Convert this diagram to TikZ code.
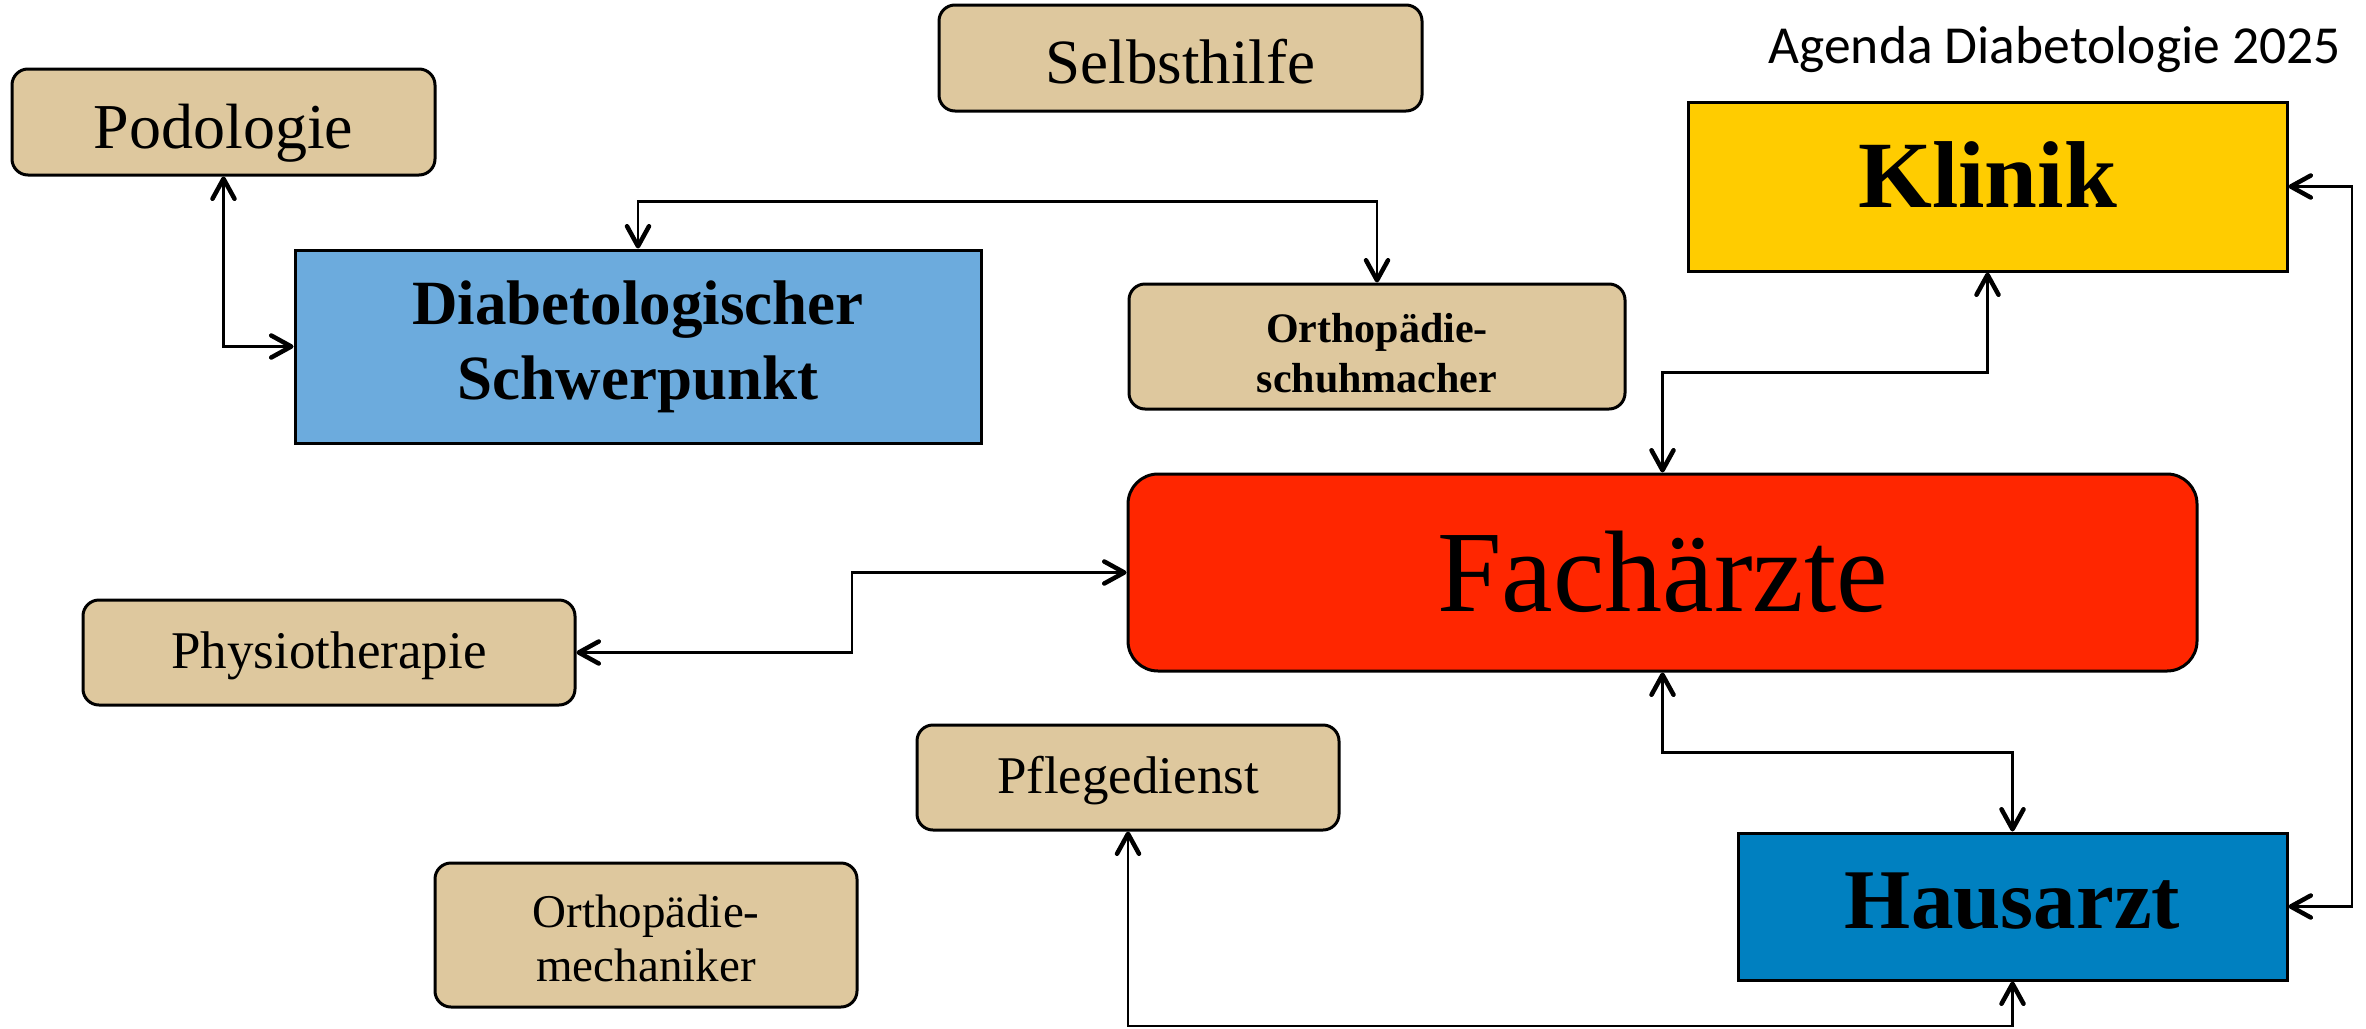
\documentclass[tikz,border=0pt]{standalone}
\usepackage{fontspec}
\setmainfont{Liberation Serif}
\newfontfamily\titlefont{Carlito}
\usetikzlibrary{arrows.meta}
\definecolor{tanc}{HTML}{DEC89E}
\definecolor{diabc}{HTML}{6CABDD}
\definecolor{klinc}{HTML}{FFCC00}
\definecolor{fachc}{HTML}{FF2600}
\definecolor{hausc}{HTML}{0080C0}
\tikzset{
  box/.style={draw=black, line width=3pt, inner sep=0pt, align=center, text=black},
  tanbox/.style={box, fill=tanc, rounded corners=16pt},
  conn/.style={line width=2.3pt,
    {Straight Barb[length=20pt, width=22pt, line width=4.5pt, round]}-{Straight Barb[length=20pt, width=22pt, line width=4.5pt, round]}},
  fs/.style 2 args={font=\fontsize{#1}{#2}\selectfont}
}
\begin{document}
\begin{tikzpicture}[x=1pt, y=-1pt]
\path[use as bounding box] (0,0) rectangle (2366,1028);

% nodes
\node[tanbox, minimum width=423pt, minimum height=106pt, fs={64}{77}, text height=52pt, text depth=0pt] (pod) at (223.5,122) {Podologie};
\node[tanbox, minimum width=483pt, minimum height=106pt, fs={63}{76}, text height=50pt, text depth=0pt] (selb) at (1180.5,58) {Selbsthilfe};
\node[box, fill=klinc, minimum width=599pt, minimum height=169pt, font=\bfseries\fontsize{95}{114}\selectfont, text height=41pt, text depth=0pt] (klin) at (1987.5,186.5) {Klinik};
\node[box, fill=diabc, minimum width=686pt, minimum height=193pt, font=\bfseries\fontsize{63}{75}\selectfont] (diab) at (638,346.5) {Diabetologischer\\Schwerpunkt};
\node[tanbox, minimum width=496pt, minimum height=125pt, font=\bfseries\fontsize{42}{50}\selectfont] (schuh) at (1377,346.5) {\rule{0pt}{43pt}Orthop\"adie-\\schuhmacher};
\node[box, fill=fachc, rounded corners=30pt, minimum width=1069pt, minimum height=197pt, fs={116}{139}, text height=77pt, text depth=0pt] (fach) at (1662.5,572.5) {Fach\"arzte};
\node[tanbox, minimum width=492pt, minimum height=105pt, fs={53}{64}, text height=31pt, text depth=0pt] (phys) at (329,652.5) {Physiotherapie};
\node[tanbox, minimum width=422pt, minimum height=105pt, fs={53}{64}, text height=31pt, text depth=0pt] (pfl) at (1128,777.5) {Pflegedienst};
\node[tanbox, minimum width=422pt, minimum height=144pt, fs={47}{54}] (mech) at (646,935) {\rule{0pt}{40pt}Orthop\"adie-\\mechaniker};
\node[box, fill=hausc, minimum width=549pt, minimum height=147pt, font=\bfseries\fontsize{85}{102}\selectfont, text height=43pt, text depth=0pt] (haus) at (2012.5,906.5) {Hausarzt};
\node[anchor=base east, inner sep=0pt, font=\titlefont\fontsize{53.5}{64}\selectfont] (title) at (2341,63) {Agenda Diabetologie 2025};

% helper coordinates
\coordinate (physbend) at (852,0);
\coordinate (rightrail) at (2352,0);
\coordinate (bottomrail) at (0,1026);

% connectors
\draw[conn] (pod.south) |- (diab.west);
\draw[conn] (diab.north) -- ++(0,-47) -| (schuh.north);
\draw[conn] (klin.south) -- ++(0,100) -| (fach.north);
\draw[conn] (phys.east) -| (physbend |- fach.west) -- (fach.west);
\draw[conn] (fach.south) -- ++(0,80) -| (haus.north);
\draw[conn] (klin.east) -- (rightrail |- klin.east) |- (haus.east);
\draw[conn] (pfl.south) -- (pfl.south |- bottomrail) -| (haus.south);
\end{tikzpicture}
\end{document}
